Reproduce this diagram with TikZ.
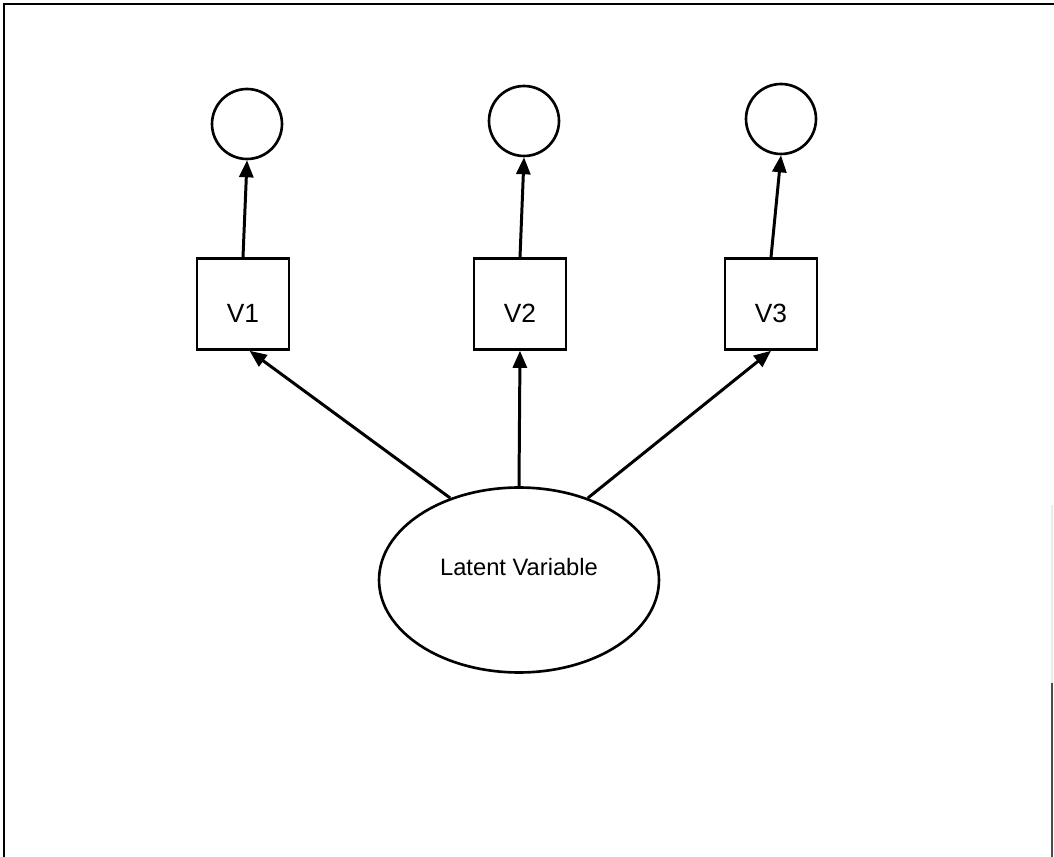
\documentclass[tikz,border=0pt]{standalone}
\usepackage{fontspec}
\setmainfont{Liberation Sans}
\usetikzlibrary{arrows.meta,shapes.geometric}
\tikzset{
	errcirc/.style={draw, circle, line width=1.5pt, minimum size=1.4cm, inner sep=0},
	obsbox/.style={draw, rectangle, line width=1.5pt, minimum width=1.84cm, minimum height=1.82cm,
		inner sep=0, text height=0.75cm, font=\fontsize{15}{17}\selectfont},
	latent/.style={draw, ellipse, line width=1.5pt, minimum width=5.6cm, minimum height=3.7cm,
		inner sep=0, text depth=0.52cm, font=\fontsize{13.5}{15}\selectfont}
}
\begin{document}
\begin{tikzpicture}[x=0.02cm, y=-0.02cm, ->, >={Triangle[length=0.34cm,width=0.28cm]},
					line width=1.7pt]
					\useasboundingbox (0,0) rectangle (1054,857);
					% frame
					\draw[-, line width=1.5pt] (4,857) -- (4,4) -- (1054,4);
					\draw[-, line width=1pt, black!8] (1052,505) -- (1052,683);
					\draw[-, line width=1pt, black!70] (1052,683) -- (1052,857);
					\node[errcirc] (c1) at (247,124) {};
					\node[errcirc] (c2) at (524,121) {};
					\node[errcirc] (c3) at (781,119) {};
					\node[obsbox] (v1) at (243,304) {V1};
					\node[obsbox] (v2) at (520,304) {V2};
					\node[obsbox] (v3) at (771,304) {V3};
					\node[latent] (lv) at (519,580) {Latent Variable};
					\path (v1.north) edge (c1.south);
					\path (v2.north) edge (c2.south);
					\path (v3.north) edge (c3.south);
					\path (lv.130) edge (v1.-82);
					\path (lv.north) edge (v2.south);
					\path (lv.50) edge (v3.south);
				\end{tikzpicture}
\end{document}
